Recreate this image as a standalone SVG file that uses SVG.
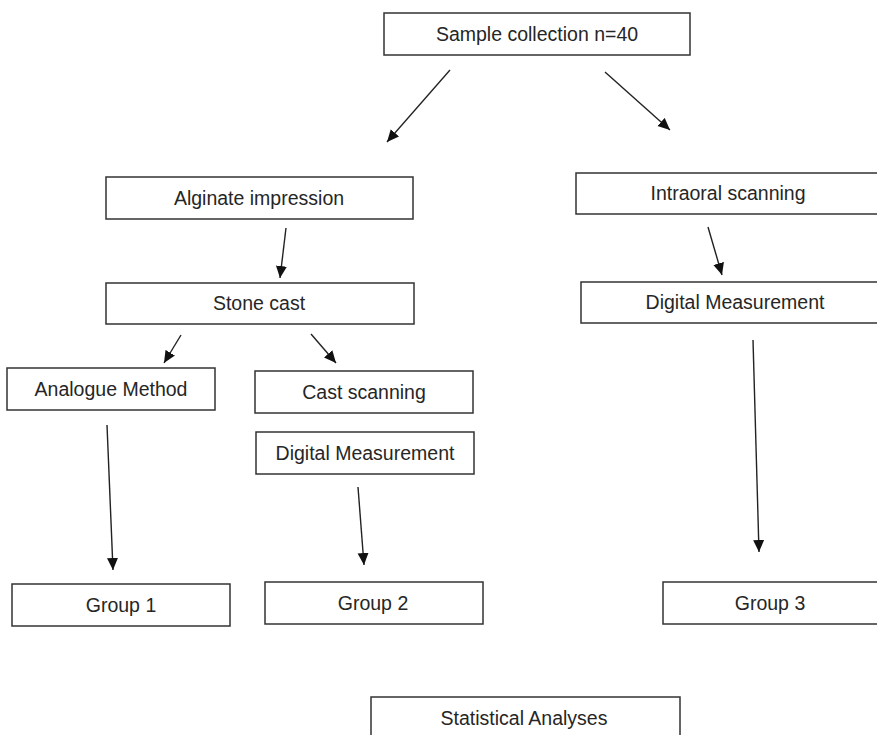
<svg xmlns="http://www.w3.org/2000/svg" width="877" height="735" viewBox="0 0 877 735">
<style>
.box{fill:#fff;stroke:#333;stroke-width:1.5}
.t{font-family:"Liberation Sans",Arial,sans-serif;font-size:19.5px;fill:#262626;text-anchor:middle}
.c{stroke:#222;stroke-width:1.4;fill:none;marker-end:url(#ah)}
</style>
<defs>
<marker id="ah" markerUnits="userSpaceOnUse" markerWidth="12" markerHeight="12" viewBox="0 0 12 12" refX="12" refY="6" orient="auto">
<path d="M0,0.5 L12,6 L0,11.5 z" fill="#111"/>
</marker>
</defs>
<rect width="877" height="735" fill="#fff"/>
<g id="connectors">
<line class="c" x1="450" y1="70" x2="387" y2="142"/>
<line class="c" x1="605" y1="72" x2="670" y2="130"/>
<line class="c" x1="286" y1="228" x2="280" y2="278"/>
<line class="c" x1="181" y1="335" x2="164" y2="363"/>
<line class="c" x1="311" y1="334" x2="336" y2="363"/>
<line class="c" x1="708" y1="227" x2="722" y2="275"/>
<line class="c" x1="753" y1="340" x2="759" y2="552"/>
<line class="c" x1="107" y1="425" x2="113" y2="570"/>
<line class="c" x1="358" y1="487" x2="364" y2="565"/>
</g>
<g id="sample"><rect class="box" x="384" y="13" width="306" height="42"/><text class="t" x="537" y="41">Sample collection n=40</text></g>
<g id="alginate"><rect class="box" x="106" y="177" width="307" height="42"/><text class="t" x="259" y="205">Alginate impression</text></g>
<g id="stone"><rect class="box" x="106" y="283" width="308" height="41"/><text class="t" x="259" y="310">Stone cast</text></g>
<g id="intraoral"><rect class="box" x="576" y="173" width="304" height="41"/><text class="t" x="728" y="200">Intraoral scanning</text></g>
<g id="digital3"><rect class="box" x="581" y="282" width="308" height="41"/><text class="t" x="735" y="309">Digital Measurement</text></g>
<g id="analogue"><rect class="box" x="7" y="368" width="208" height="42"/><text class="t" x="111" y="396">Analogue Method</text></g>
<g id="castscan"><rect class="box" x="255" y="371" width="218" height="42"/><text class="t" x="364" y="399">Cast scanning</text></g>
<g id="digital2"><rect class="box" x="256" y="432" width="218" height="42"/><text class="t" x="365" y="460">Digital Measurement</text></g>
<g id="group1"><rect class="box" x="12" y="584" width="218" height="42"/><text class="t" x="121" y="612">Group 1</text></g>
<g id="group2"><rect class="box" x="265" y="582" width="218" height="42"/><text class="t" x="373" y="610">Group 2</text></g>
<g id="group3"><rect class="box" x="663" y="582" width="220" height="42"/><text class="t" x="770" y="610">Group 3</text></g>
<g id="stats"><rect class="box" x="371" y="697" width="309" height="50"/><text class="t" x="524" y="725">Statistical Analyses</text></g>
</svg>
